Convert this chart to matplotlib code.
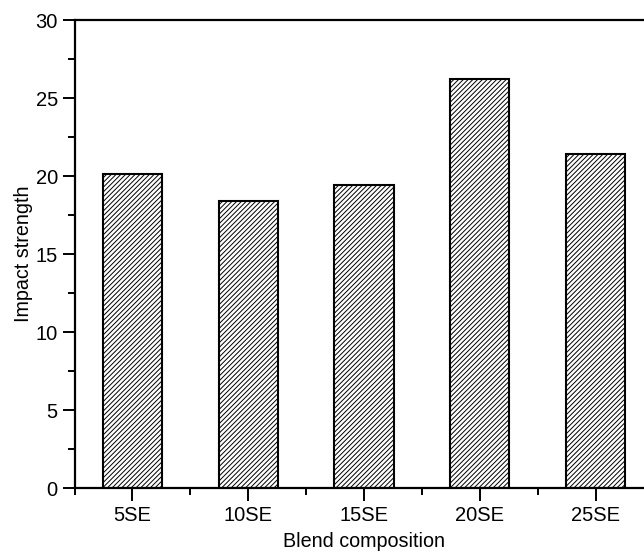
import matplotlib
matplotlib.use("Agg")
import matplotlib.pyplot as plt
from matplotlib.ticker import MultipleLocator, FixedLocator

plt.rcParams["font.family"] = ["Liberation Sans", "DejaVu Sans"]
plt.rcParams["hatch.color"] = "#4a4a4a"
plt.rcParams["hatch.linewidth"] = 0.7

# Impact strength for each blend
blends = ["5SE", "10SE", "15SE", "20SE", "25SE"]
impact = [20.1, 18.4, 19.4, 26.2, 21.4]

fig = plt.figure(figsize=(6.44, 5.56), dpi=100)
ax = fig.add_axes([74.5 / 644, 1 - 488 / 556, 579 / 644, 468 / 556])

pos = list(range(1, len(blends) + 1))
ax.bar(pos, impact, width=0.51, color="white", edgecolor="black",
       linewidth=1.5, hatch="///////", zorder=2)

ax.set_xlim(0.5, 5.5)
ax.set_ylim(0, 30)
ax.set_xticks(pos)
ax.set_xticklabels(blends)
ax.xaxis.set_minor_locator(FixedLocator([0.5, 1.5, 2.5, 3.5, 4.5, 5.5]))
ax.yaxis.set_major_locator(MultipleLocator(5))
ax.yaxis.set_minor_locator(MultipleLocator(2.5))

for s in ax.spines.values():
    s.set_linewidth(1.6)

ax.tick_params(which="major", direction="out", length=9, width=1.4,
               labelsize=14.5, pad=3)
ax.tick_params(which="minor", direction="out", length=5, width=1.4)
ax.tick_params(axis="x", which="major", pad=4)

ax.set_xlabel("Blend composition", fontsize=14.2, labelpad=5)
ax.set_ylabel("Impact strength", fontsize=14.2, labelpad=2)

fig.savefig("out.png", dpi=100)
